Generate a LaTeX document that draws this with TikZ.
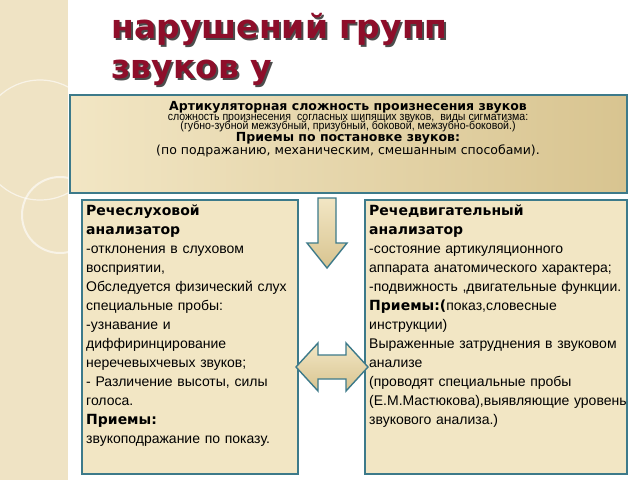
\documentclass[tikz,border=0pt]{standalone}
\usepackage{fontspec}
\setmainfont{Liberation Sans}
\newfontfamily\dv{DejaVu Sans}
\definecolor{titlered}{HTML}{8E0E2A}
\definecolor{boxedge}{HTML}{3D7A8A}
\definecolor{beige}{HTML}{F2E6C4}
\definecolor{beigeD}{HTML}{D8C490}
\definecolor{strip}{HTML}{EFE3C4}
\tikzset{
 panel/.style={inner sep=2pt,anchor=north west,align=left,font=\fontsize{14}{19}\selectfont,text width=#1},
 frame/.style={draw=boxedge,line width=1.6pt,fill=beige},
 ttl/.style={font=\dv\bfseries\fontsize{33}{36}\selectfont,anchor=west},
 arrowfill/.style={draw=boxedge,line width=1.4pt,top color=beige,bottom color=beigeD}
}
\begin{document}
\begin{tikzpicture}[x=1pt,y=-1pt]
\useasboundingbox (0,0) rectangle (640,480);
\fill[white] (0,0) rectangle (640,480);
\fill[strip] (0,0) rectangle (68,480);
\draw[white,line width=2pt,opacity=.6] (60,215) circle (38);
\draw[white,line width=1.2pt,opacity=.6] (40,140) circle (60);
\node[ttl,text=black!70] at (110,31) {нарушений групп};
\node[ttl,text=black!70] at (110,75) {звуков у};
\node[ttl,text=titlered] (t1) at (108,29) {нарушений групп};
\node[ttl,text=titlered] (t2) at (108,73) {звуков у};
\shade[left color=beige,right color=beigeD] (70,95) rectangle (627,193);
\draw[boxedge,line width=1.6pt] (70,95) rectangle (627,193);
\node[align=center,anchor=north,inner sep=0pt] (top) at (348,101) {{\dv\bfseries\fontsize{12.5}{15}\selectfont Артикуляторная сложность произнесения звуков}\\[-2pt]
{\fontsize{11.5}{15}\selectfont\addfontfeature{FakeStretch=0.92} сложность произнесения\ \ согласных шипящих звуков,\ \ виды сигматизма:}\\[-3pt]
{\fontsize{11.5}{15}\selectfont\addfontfeature{FakeStretch=0.92} (губно-зубной межзубный, призубный, боковой, межзубно-боковой.)}\\[0pt]
{\dv\bfseries\fontsize{12.5}{15}\selectfont Приемы по постановке звуков:}\\[0pt]
{\dv\fontsize{12.5}{15}\selectfont (по подражанию, механическим, смешанным способами).}};
\draw[frame] (82,200) rectangle (298,474);
\draw[frame] (365,200) rectangle (627,474);
\node[panel=214pt] (L) at (84,203) {{\dv\bfseries Речеслуховой\\анализатор}\\
-отклонения в слуховом восприятии,\\
Обследуется физический слух специальные пробы:\\
-узнавание и диффиринцирование неречевыхчевых звуков;\\
- Различение высоты, силы голоса.\\
{\dv\bfseries Приемы:}\\
звукоподражание по показу.};
\node[panel=258pt] (R) at (367,203) {{\dv\bfseries Речедвигательный\\анализатор}\\
-состояние артикуляционного аппарата анатомического характера;\\
-подвижность ,двигательные функции.\\
{\dv\bfseries Приемы:(}показ,словесные инструкции)\\
Выраженные затруднения в звуковом анализе\\
(проводят специальные пробы (Е.М.Мастюкова),выявляющие уровень звукового анализа.)};
\draw[arrowfill] (318,198) -- (336,198) -- (336,243) -- (347,243) -- (327,268) -- (307,243) -- (318,243) -- cycle;
\draw[arrowfill] (296,367) -- (318,343) -- (318,355) -- (346,355) -- (346,343) -- (368,367) -- (346,391) -- (346,379) -- (318,379) -- (318,391) -- cycle;
\end{tikzpicture}
\end{document}
